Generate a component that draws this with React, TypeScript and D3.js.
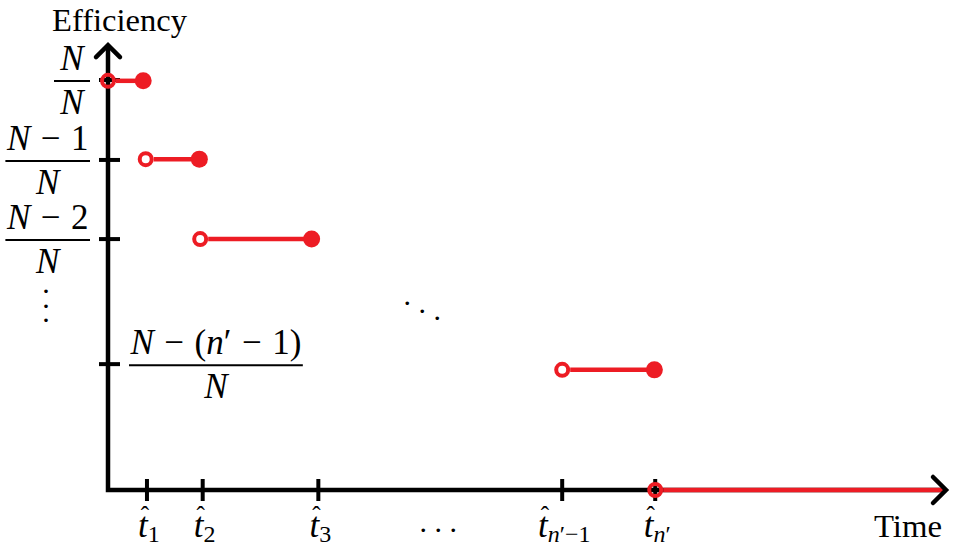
import React, { useEffect, useRef } from 'react';
import * as d3 from 'd3';

// efficiency levels that get a tick on the y axis (fraction of N)
const levelValues = [1, 0.805, 0.612, 0.307];
// numerator of each level label (denominator is always N); sp = math space before the part
const levelNumerators = [
  [{ t: 'N', it: true }],
  [{ t: 'N', it: true }, { t: '−', sp: true }, { t: '1', sp: true }],
  [{ t: 'N', it: true }, { t: '−', sp: true }, { t: '2', sp: true }],
  [
    { t: 'N', it: true },
    { t: '−', sp: true },
    { t: '(', sp: true },
    { t: 'n', it: true },
    { t: '′' },
    { t: '−', sp: true },
    { t: '1', sp: true },
    { t: ')' },
  ],
];
const levelSide = ['left', 'left', 'left', 'right'];

// detection times on the x axis and the subscripts of their labels
const tickTimes = [4.65, 11.3, 25.1, 54.2, 65.3];
const tickSubs = [
  [{ t: '1' }],
  [{ t: '2' }],
  [{ t: '3' }],
  [{ t: 'n', it: true }, { t: '′' }, { t: '−' }, { t: '1' }],
  [{ t: 'n', it: true }, { t: '′' }],
];

// step segments of the efficiency curve
const segLevel = [0.998, 0.807, 0.612, 0.293, 0];
const segStart = [0, 4.5, 11.0, 54.2, 65.3];
const segEnd = [4.2, 10.9, 24.3, 65.2, 100];
const segClosed = [true, true, true, true, false];

const xMax = 100;
const yTop = 1.085;

export default function App() {
  const svgRef = useRef<SVGSVGElement>(null);

  useEffect(() => {
    const svg = d3.select(svgRef.current);
    svg.selectAll('*').remove();

    const red = '#ed1c24';
    const font = "'Liberation Serif', 'DejaVu Serif', serif";
    const fs = 35;
    const subFs = 24;

    const xScale = d3.scaleLinear().domain([0, xMax]).range([108, 946]);
    const yScale = d3.scaleLinear().domain([0, 1]).range([490, 80]);
    const x0 = xScale(0);
    const y0 = yScale(0);

    const addParts = (text, parts, size) => {
      parts.forEach((p) => {
        text
          .append('tspan')
          .attr('dx', p.sp ? size * 0.3 : null)
          .attr('font-style', p.it ? 'italic' : null)
          .text(p.t);
      });
      return text;
    };

    // axes
    svg
      .append('path')
      .attr('d', `M${x0},${yScale(yTop)}V${y0}H${xScale(xMax)}`)
      .attr('fill', 'none')
      .attr('stroke', '#000')
      .attr('stroke-width', 4.5);

    svg
      .selectAll('.ytick')
      .data(levelValues)
      .join('line')
      .attr('class', 'ytick')
      .attr('x1', x0 - 9)
      .attr('x2', x0 + 12)
      .attr('y1', (d) => yScale(d))
      .attr('y2', (d) => yScale(d))
      .attr('stroke', '#000')
      .attr('stroke-width', 4);

    svg
      .selectAll('.xtick')
      .data(tickTimes)
      .join('line')
      .attr('class', 'xtick')
      .attr('x1', (d) => xScale(d))
      .attr('x2', (d) => xScale(d))
      .attr('y1', y0 - 11)
      .attr('y2', y0 + 11)
      .attr('stroke', '#000')
      .attr('stroke-width', 4);

    // y labels as fractions
    levelValues.forEach((v, i) => {
      const yb = yScale(v) + 1;
      const g = svg.append('g').attr('font-family', font).attr('font-size', fs);
      const num = addParts(g.append('text').attr('y', yb - 11).attr('text-anchor', 'middle'), levelNumerators[i], fs);
      const den = addParts(g.append('text').attr('y', yb + 33).attr('text-anchor', 'middle'), [{ t: 'N', it: true }], fs);
      const w = Math.max(num.node().getBBox().width, den.node().getBBox().width) + (i === 0 ? 10 : 2);
      const cx = levelSide[i] === 'left' ? x0 - 18 - w / 2 : x0 + 21 + w / 2;
      num.attr('x', cx);
      den.attr('x', cx);
      g.append('line')
        .attr('x1', cx - w / 2)
        .attr('x2', cx + w / 2)
        .attr('y1', yb)
        .attr('y2', yb)
        .attr('stroke', '#000')
        .attr('stroke-width', 2);
    });

    // x labels: t-hat with subscript
    tickTimes.forEach((t, i) => {
      const tx = xScale(t);
      const lab = svg.append('text').attr('y', 537).attr('font-family', font).attr('font-size', fs);
      lab.append('tspan').attr('font-style', 'italic').text('t');
      tickSubs[i].forEach((p, j) => {
        lab
          .append('tspan')
          .attr('dy', j === 0 ? 5 : null)
          .attr('font-size', subFs)
          .attr('font-style', p.it ? 'italic' : null)
          .text(p.t);
      });
      const w = lab.node().getBBox().width;
      const left = tx - w / 2 + 2;
      lab.attr('x', left);
      const tw = lab.node().getSubStringLength(0, 1);
      lab
        .append('tspan')
        .attr('x', left + tw / 2 + 2)
        .attr('y', 524)
        .attr('text-anchor', 'middle')
        .attr('font-size', 25)
        .text('ˆ');
    });

    // segments
    const rOpen = 6;
    const openW = 4;
    segLevel.forEach((lv, i) => {
      const y = yScale(lv);
      const xs = xScale(segStart[i]);
      const xe = xScale(segEnd[i]);
      svg
        .append('line')
        .attr('x1', xs + rOpen + openW / 2)
        .attr('x2', xe)
        .attr('y1', y)
        .attr('y2', y)
        .attr('stroke', red)
        .attr('stroke-width', 4.5);
      svg
        .append('circle')
        .attr('cx', xs)
        .attr('cy', y)
        .attr('r', rOpen)
        .attr('fill', 'none')
        .attr('stroke', red)
        .attr('stroke-width', openW);
      if (segClosed[i]) {
        svg.append('circle').attr('cx', xe).attr('cy', y).attr('r', 8.5).attr('fill', red);
      }
    });

    // arrow heads
    const yt = yScale(yTop);
    const xt = xScale(xMax);
    svg
      .append('path')
      .attr('d', `M${x0 - 12},${yt + 12}L${x0},${yt}L${x0 + 12},${yt + 12}`)
      .attr('fill', 'none')
      .attr('stroke', '#000')
      .attr('stroke-width', 4.5)
      .attr('stroke-linecap', 'round')
      .attr('stroke-linejoin', 'miter');
    svg
      .append('path')
      .attr('d', `M${xt - 13},${y0 - 13}L${xt},${y0}L${xt - 13},${y0 + 13}`)
      .attr('fill', 'none')
      .attr('stroke', '#000')
      .attr('stroke-width', 4.5)
      .attr('stroke-linecap', 'round')
      .attr('stroke-linejoin', 'miter');

    // axis titles
    svg
      .append('text')
      .attr('x', 52)
      .attr('y', 31)
      .attr('font-family', font)
      .attr('font-size', 31)
      .attr('textLength', 135)
      .attr('lengthAdjust', 'spacingAndGlyphs')
      .text('Efficiency');
    svg
      .append('text')
      .attr('x', 874)
      .attr('y', 537)
      .attr('font-family', font)
      .attr('font-size', 32)
      .attr('textLength', 68)
      .attr('lengthAdjust', 'spacingAndGlyphs')
      .text('Time');

    // ellipsis marks
    const dotFs = 30;
    const dotLift = dotFs * 0.27;
    const vx = 46;
    const vy = (yScale(levelValues[2]) + yScale(levelValues[3])) / 2 + 6;
    const vd = svg.append('text').attr('font-family', font).attr('font-size', dotFs).attr('text-anchor', 'middle');
    [-1, 0, 1].forEach((k) => vd.append('tspan').attr('x', vx).attr('y', vy + k * 14.5 + dotLift).text('·'));

    const dx = (xScale(tickTimes[2]) + xScale(tickTimes[3])) / 2 - 18;
    const dy = (yScale(levelValues[2]) + yScale(levelValues[3])) / 2 + 11;
    const dd = svg.append('text').attr('font-family', font).attr('font-size', dotFs).attr('text-anchor', 'middle');
    [-1, 0, 1].forEach((k) => dd.append('tspan').attr('x', dx + k * 15).attr('y', dy + k * 7.5 + dotLift).text('·'));

    const cx = (xScale(tickTimes[2]) + xScale(tickTimes[3])) / 2 - 2;
    const cd = svg.append('text').attr('font-family', font).attr('font-size', dotFs).attr('text-anchor', 'middle');
    [-1, 0, 1].forEach((k) => cd.append('tspan').attr('x', cx + k * 15).attr('y', 532 + dotLift).text('·'));
  }, []);

  return (
    <svg
      ref={svgRef}
      width={959}
      height={554}
      style={{ position: 'absolute', left: 0, top: 0, background: '#fff', display: 'block' }}
    />
  );
}
